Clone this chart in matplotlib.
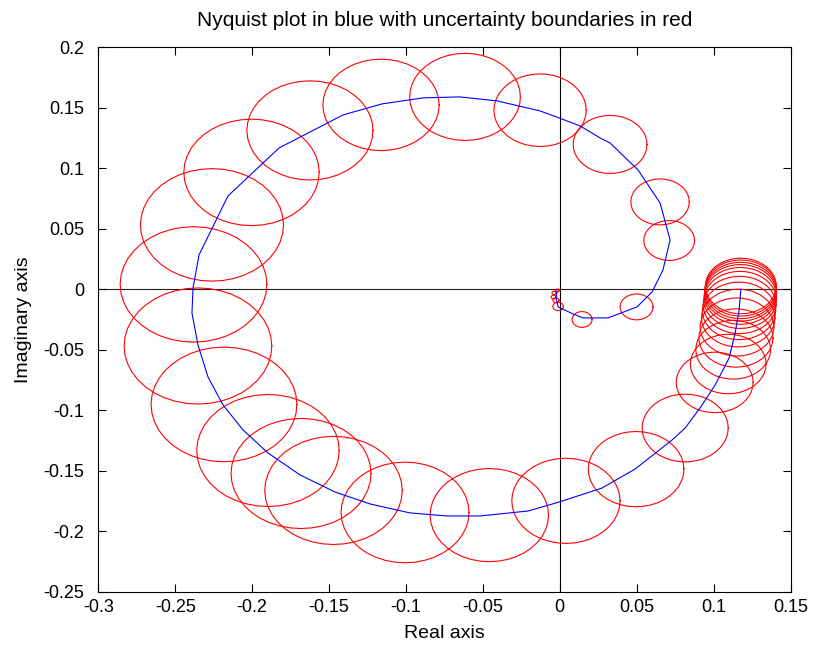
import numpy as np
import matplotlib.pyplot as plt

plt.rcParams['font.family'] = ['Liberation Sans', 'DejaVu Sans']

# Nominal frequency response (real, imaginary), low to high frequency
re_g = [0.1177, 0.1166, 0.1140, 0.1101, 0.1010, 0.0912, 0.0815, 0.0730, 0.0490,
        0.0275, -0.0005, -0.0206, -0.0518, -0.0733, -0.0973, -0.1233, -0.1461,
        -0.1688, -0.1897, -0.2059, -0.2189, -0.2287, -0.2352, -0.2391, -0.2384,
        -0.2345, -0.2157, -0.1825, -0.1409, -0.1156, -0.0889, -0.0649, -0.0408,
        -0.0128, -0.0004, 0.0132, 0.0262, 0.0327, 0.0509, 0.0652, 0.0717, 0.0671,
        0.0600, 0.0502, 0.0314, 0.0151, 0.0086, -0.0011, -0.0024, -0.0018]
im_g = [0.0, -0.0171, -0.0361, -0.0568, -0.0791, -0.0981, -0.1147, -0.1246, -0.1486,
        -0.1643, -0.1759, -0.1833, -0.1874, -0.1874, -0.1849, -0.1775, -0.1676,
        -0.1535, -0.1353, -0.1163, -0.0957, -0.0725, -0.0460, -0.0196, 0.0011,
        0.0284, 0.0771, 0.1168, 0.1441, 0.1532, 0.1582, 0.1590, 0.1557, 0.1474,
        0.1416, 0.1350, 0.1251, 0.1209, 0.0986, 0.0713, 0.0408, 0.0160, -0.0022,
        -0.0146, -0.0237, -0.0237, -0.0204, -0.0146, -0.0072, -0.0014]

# Uncertainty disc centres and radii
cx = [0.1177, 0.1177, 0.1176, 0.1175, 0.1174, 0.1172, 0.1169, 0.1165, 0.1160,
      0.1152, 0.1145, 0.1127, 0.1095, 0.1007, 0.0815, 0.0496, 0.0040, -0.0458,
      -0.1006, -0.1471, -0.1682, -0.1897, -0.2183, -0.2352, -0.2381, -0.2261,
      -0.2004, -0.1624, -0.1162, -0.0616, -0.0128, 0.0327, 0.0652, 0.0711,
      0.0499, 0.0145, -0.0011, -0.0025, -0.0040, -0.0037, -0.0015]
cy = [0.0027, 0.0010, -0.0010, -0.0030, -0.0055, -0.0088, -0.0130, -0.0179, -0.0238,
      -0.0312, -0.0403, -0.0500, -0.0618, -0.0770, -0.1147, -0.1487, -0.1749,
      -0.1867, -0.1845, -0.1663, -0.1523, -0.1333, -0.0952, -0.0469, 0.0040,
      0.0532, 0.0966, 0.1313, 0.1524, 0.1590, 0.1480, 0.1197, 0.0722, 0.0403,
      -0.0146, -0.0250, -0.0142, -0.0090, -0.0065, -0.0030, -0.0010]
rad = [0.0230, 0.0232, 0.0233, 0.0234, 0.0235, 0.0236, 0.0237, 0.0238, 0.0239,
       0.0240, 0.0241, 0.0243, 0.0246, 0.0250, 0.0280, 0.0311, 0.0352, 0.0385,
       0.0416, 0.0447, 0.0455, 0.0463, 0.0474, 0.0480, 0.0477, 0.0465, 0.0440,
       0.0410, 0.0378, 0.0360, 0.0300, 0.0240, 0.0190, 0.0165, 0.0107, 0.0065,
       0.0034, 0.0020, 0.0016, 0.0014, 0.0012]

xticks = [-0.3, -0.25, -0.2, -0.15, -0.1, -0.05, 0, 0.05, 0.1, 0.15]
xtick_labels = ['-0.3', '-0.25', '-0.2', '-0.15', '-0.1', '-0.05', '0', '0.05', '0.1', '0.15']
yticks = [-0.25, -0.2, -0.15, -0.1, -0.05, 0, 0.05, 0.1, 0.15, 0.2]
ytick_labels = ['-0.25', '-0.2', '-0.15', '-0.1', '-0.05', '0', '0.05', '0.1', '0.15', '0.2']

fig = plt.figure(figsize=(8.17, 6.48), dpi=100)
ax = fig.add_axes([0.1203, 0.0869, 0.8473, 0.8401])

ax.axhline(0, color='#222222', lw=0.8, zorder=1)
ax.axvline(0, color='black', lw=0.8, zorder=1)

t = np.linspace(0, 2 * np.pi, 41)
for x0, y0, r in zip(cx, cy, rad):
    ax.plot(x0 + r * np.cos(t), y0 + r * np.sin(t), color='red', lw=0.8, zorder=2)

ax.plot(re_g, im_g, color='blue', lw=0.8, zorder=3)

ax.set_xlim(-0.3, 0.15)
ax.set_ylim(-0.25, 0.2)
ax.set_xticks(xticks)
ax.set_xticklabels(xtick_labels)
ax.set_yticks(yticks)
ax.set_yticklabels(ytick_labels)
ax.tick_params(direction='in', top=True, right=True, length=6, width=0.8,
               labelsize=13)
ax.tick_params(axis='x', pad=5.5)
ax.tick_params(axis='y', pad=10)
for s in ax.spines.values():
    s.set_linewidth(0.8)

ax.set_xlabel('Real axis', fontsize=14, labelpad=6)
ax.set_ylabel('Imaginary axis', fontsize=14, labelpad=8)
ax.set_title('Nyquist plot in blue with uncertainty boundaries in red', fontsize=15, pad=15)

fig.savefig('out.png', dpi=100)
